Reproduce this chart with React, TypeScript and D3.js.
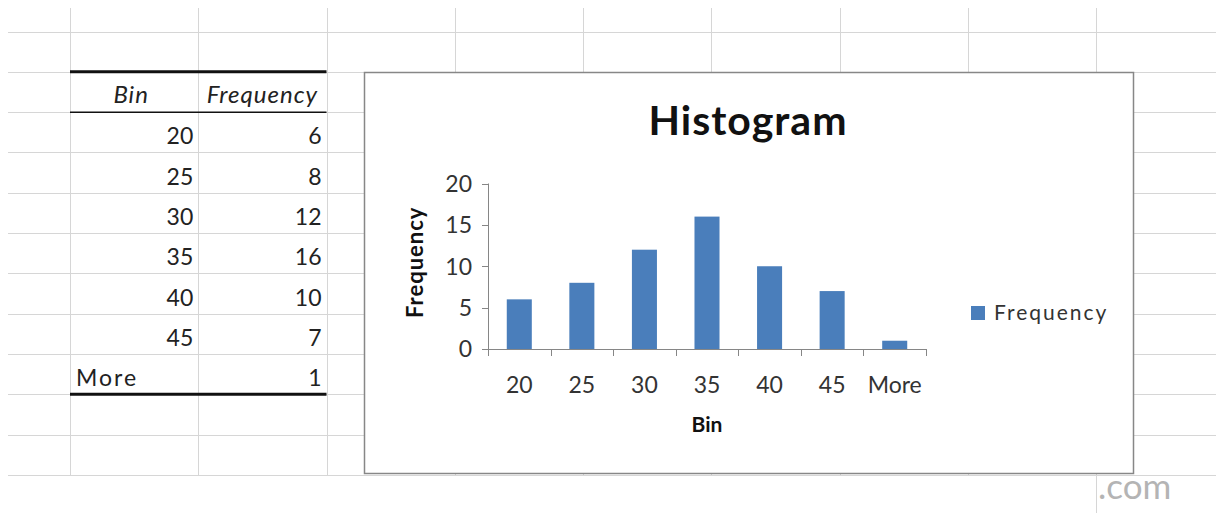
import React from "react";
import * as d3 from "d3";

const bins = ["20", "25", "30", "35", "40", "45", "More"];
const frequency = [6, 8, 12, 16, 10, 7, 1];
const yTicks = [0, 5, 10, 15, 20];
const tableHeaders = ["Bin", "Frequency"];
const chartTitle = "Histogram";
const xTitle = "Bin";
const yTitle = "Frequency";
const seriesName = "Frequency";
const watermark = ".com";

const W = 1216;
const H = 513;
const FONT = "Lato, 'Open Sans', sans-serif";
const BAR = "#4a7ebb";
const GRID = "#d6d6d6";
const AXIS = "#868686";

export default function App() {
  const colX = d3.scaleLinear().domain([0, 8]).range([70, 1096]);
  const rowY = d3.scaleLinear().domain([0, 11]).range([31.5, 475]);

  const plotL = 488;
  const plotR = 926;
  const x = d3
    .scaleBand<string>()
    .domain(bins)
    .range([plotL, plotR])
    .paddingInner(0.6)
    .paddingOuter(0.3);
  const y = d3.scaleLinear().domain([0, 20]).range([349, 183.5]);
  const step = x.step();
  const boundaries = d3.range(bins.length + 1).map((i) => plotL + i * step);

  const box = { x: 364, y: 72, w: 769, h: 401 };

  return (
    <svg
      width={W}
      height={H}
      style={{ position: "absolute", left: 0, top: 0, background: "#fff" }}
      fontFamily={FONT}
    >
      <rect x={0} y={0} width={W} height={H} fill="#fff" />
      {/* spreadsheet grid */}
      {d3.range(12).map((i) => (
        <line
          key={"h" + i}
          x1={8}
          x2={W}
          y1={Math.round(rowY(i)) + 0.5}
          y2={Math.round(rowY(i)) + 0.5}
          stroke={GRID}
        />
      ))}
      {d3.range(9).map((i) => (
        <line
          key={"v" + i}
          x1={Math.round(colX(i)) + 0.5}
          x2={Math.round(colX(i)) + 0.5}
          y1={8}
          y2={i === 8 ? H : 475}
          stroke={GRID}
        />
      ))}

      {/* table */}
      <line x1={colX(0)} x2={colX(2)} y1={rowY(1)} y2={rowY(1)} stroke="#111" strokeWidth={3} />
      <line x1={colX(0)} x2={colX(2)} y1={rowY(2)} y2={rowY(2)} stroke="#111" strokeWidth={1.5} />
      <line x1={colX(0)} x2={colX(2)} y1={rowY(9)} y2={rowY(9)} stroke="#111" strokeWidth={3} />
      {tableHeaders.map((h, i) => (
        <text
          key={h}
          x={(colX(i) + colX(i + 1)) / 2 - (i === 0 ? 3 : 0)}
          y={rowY(2) - 9}
          textAnchor="middle"
          fontStyle="italic"
          fontSize={24}
          letterSpacing={1}
          fill="#222"
        >
          {h}
        </text>
      ))}
      {bins.map((b, i) => {
        const isNum = !isNaN(+b);
        return (
          <g key={"r" + b}>
            <text
              x={isNum ? colX(1) - 5 : colX(0) + 6}
              y={rowY(3 + i) - 8}
              textAnchor={isNum ? "end" : "start"}
              fontSize={23}
              letterSpacing={isNum ? 0 : 2}
              fill="#222"
            >
              {b}
            </text>
            <text x={colX(2) - 5} y={rowY(3 + i) - 8} textAnchor="end" fontSize={23} fill="#222">
              {frequency[i]}
            </text>
          </g>
        );
      })}

      {/* chart box */}
      <rect
        x={box.x + 0.5}
        y={box.y + 0.5}
        width={box.w}
        height={box.h}
        fill="#fff"
        stroke="#878787"
        strokeWidth={1.5}
      />
      <text
        x={748}
        y={135}
        textAnchor="middle"
        fontWeight="bold"
        fontSize={41}
        letterSpacing={1}
        fill="#111"
      >
        {chartTitle}
      </text>

      {/* bars */}
      {bins.map((b, i) => (
        <rect
          key={"b" + b}
          x={x(b)}
          y={y(frequency[i])}
          width={x.bandwidth()}
          height={y(0) - y(frequency[i])}
          fill={BAR}
        />
      ))}

      {/* y axis */}
      <line x1={plotL + 0.5} x2={plotL + 0.5} y1={y(20)} y2={y(0)} stroke={AXIS} />
      {yTicks.map((t) => (
        <g key={"yt" + t}>
          <line x1={plotL - 6} x2={plotL} y1={Math.round(y(t)) + 0.5} y2={Math.round(y(t)) + 0.5} stroke={AXIS} />
          <text
            x={plotL - 16}
            y={y(t)}
            dy="0.36em"
            textAnchor="end"
            fontSize={23}
            fill="#333"
          >
            {t}
          </text>
        </g>
      ))}
      <text
        transform={`translate(423, ${(y(0) + y(20)) / 2 - 4}) rotate(-90)`}
        textAnchor="middle"
        fontWeight="bold"
        fontSize={22}
        letterSpacing={1}
        fill="#111"
      >
        {yTitle}
      </text>

      {/* x axis */}
      <line x1={plotL} x2={plotR} y1={Math.round(y(0)) + 0.5} y2={Math.round(y(0)) + 0.5} stroke={AXIS} />
      {boundaries.map((bx, i) => (
        <line
          key={"xt" + i}
          x1={Math.round(bx) + 0.5}
          x2={Math.round(bx) + 0.5}
          y1={y(0)}
          y2={y(0) + 7}
          stroke={AXIS}
        />
      ))}
      {bins.map((b) => (
        <text
          key={"xl" + b}
          x={(x(b) as number) + x.bandwidth() / 2}
          y={393}
          textAnchor="middle"
          fontSize={23}
          fill="#333"
        >
          {b}
        </text>
      ))}
      <text x={(plotL + plotR) / 2} y={432} textAnchor="middle" fontWeight="bold" fontSize={21} fill="#111">
        {xTitle}
      </text>

      {/* legend */}
      <rect x={971} y={306} width={14} height={14} fill={BAR} />
      <text x={994} y={320} fontSize={21} fill="#333" letterSpacing={2}>
        {seriesName}
      </text>

      {/* watermark */}
      <rect x={1097} y={476} width={119} height={37} fill="#fff" />
      <text x={1098} y={499} fontSize={35} fill="#b4b4b4">
        {watermark}
      </text>
    </svg>
  );
}
